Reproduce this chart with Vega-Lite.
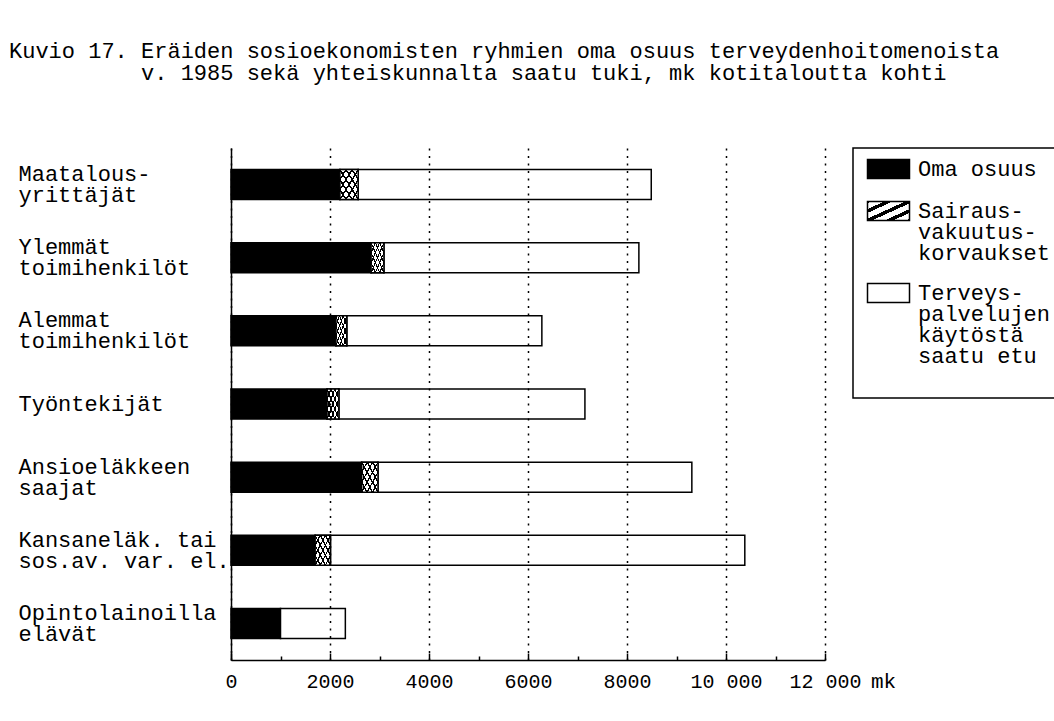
{
  "$schema": "https://vega.github.io/schema/vega-lite/v6.json",
  "width": 594,
  "height": 512,
  "autosize": {"type": "none"},
  "padding": {"left": 231, "top": 148, "right": 229, "bottom": 61},
  "background": "white",
  "config": {"view": {"stroke": null}, "font": "Liberation Mono"},
  "title": {
    "text": ["Kuvio 17. Eräiden sosioekonomisten ryhmien oma osuus terveydenhoitomenoista", "\u200b\u00a0\u00a0\u00a0\u00a0\u00a0\u00a0\u00a0\u00a0\u00a0\u00a0v. 1985 sekä yhteiskunnalta saatu tuki, mk kotitaloutta kohti"],
    "anchor": "start",
    "dx": -9,
    "offset": 62,
    "font": "Liberation Mono",
    "fontSize": 22,
    "fontWeight": "normal",
    "lineHeight": 22,
    "color": "black"
  },
  "data": {
    "values": [
      {"group": "Maatalous-\nyrittäjät", "part": "Oma osuus", "value": 2200},
      {"group": "Maatalous-\nyrittäjät", "part": "Sairaus-\nvakuutus-\nkorvaukset", "value": 370},
      {"group": "Maatalous-\nyrittäjät", "part": "Terveys-\npalvelujen\nkäytöstä\nsaatu etu", "value": 5920},
      {"group": "Ylemmät\ntoimihenkilöt", "part": "Oma osuus", "value": 2830},
      {"group": "Ylemmät\ntoimihenkilöt", "part": "Sairaus-\nvakuutus-\nkorvaukset", "value": 260},
      {"group": "Ylemmät\ntoimihenkilöt", "part": "Terveys-\npalvelujen\nkäytöstä\nsaatu etu", "value": 5150},
      {"group": "Alemmat\ntoimihenkilöt", "part": "Oma osuus", "value": 2120},
      {"group": "Alemmat\ntoimihenkilöt", "part": "Sairaus-\nvakuutus-\nkorvaukset", "value": 220},
      {"group": "Alemmat\ntoimihenkilöt", "part": "Terveys-\npalvelujen\nkäytöstä\nsaatu etu", "value": 3940},
      {"group": "Työntekijät", "part": "Oma osuus", "value": 1940},
      {"group": "Työntekijät", "part": "Sairaus-\nvakuutus-\nkorvaukset", "value": 240},
      {"group": "Työntekijät", "part": "Terveys-\npalvelujen\nkäytöstä\nsaatu etu", "value": 4970},
      {"group": "Ansioeläkkeen\nsaajat", "part": "Oma osuus", "value": 2640},
      {"group": "Ansioeläkkeen\nsaajat", "part": "Sairaus-\nvakuutus-\nkorvaukset", "value": 330},
      {"group": "Ansioeläkkeen\nsaajat", "part": "Terveys-\npalvelujen\nkäytöstä\nsaatu etu", "value": 6340},
      {"group": "Kansaneläk. tai\nsos.av. var. el.", "part": "Oma osuus", "value": 1700},
      {"group": "Kansaneläk. tai\nsos.av. var. el.", "part": "Sairaus-\nvakuutus-\nkorvaukset", "value": 310},
      {"group": "Kansaneläk. tai\nsos.av. var. el.", "part": "Terveys-\npalvelujen\nkäytöstä\nsaatu etu", "value": 8370},
      {"group": "Opintolainoilla\nelävät", "part": "Oma osuus", "value": 1000},
      {"group": "Opintolainoilla\nelävät", "part": "Terveys-\npalvelujen\nkäytöstä\nsaatu etu", "value": 1310}
    ]
  },
  "transform": [
    {"stack": "value", "groupby": ["group"], "sort": [{"field": "part", "order": "ascending"}], "as": ["x0", "x1"]}
  ],
  "layer": [
    {
      "mark": {"type": "bar", "stroke": "black", "strokeWidth": 1.5},
      "encoding": {
        "y": {
          "field": "group", "type": "nominal", "sort": null,
          "scale": {"paddingInner": 0.59, "paddingOuter": 0.295},
          "axis": {
            "title": null, "domainColor": "black", "domainWidth": 1.5, "ticks": false,
            "labelAlign": "left", "labelPadding": 213, "labelFont": "Liberation Mono",
            "labelFontSize": 22, "labelColor": "black", "labelLimit": 0,
            "labelExpr": "split(datum.label, '\\n')", "labelLineHeight": 21, "labelBaseline": "middle",
            "labelOffset": {"condition": {"test": "indexof(datum.value, '\\n') >= 0", "value": -10.5}, "value": 0}
          }
        },
        "x": {
          "field": "x0", "type": "quantitative",
          "scale": {"domain": [0, 12000], "nice": false, "zero": true},
          "axis": {
            "orient": "bottom",
            "values": [0, 2000, 4000, 6000, 8000, 10000, 12000],
            "title": "mk", "titleX": 652, "titleY": 10, "titleAlign": "center", "titleBaseline": "top",
            "titleFont": "Liberation Mono", "titleFontSize": 21, "titleFontWeight": "normal", "titleColor": "black",
            "domainColor": "black", "domainWidth": 1.5,
            "tickColor": "black", "tickSize": -7, "tickWidth": 1.5,
            "grid": true, "gridColor": "black", "gridDash": [2, 5.5], "gridWidth": 1.5,
            "labelExpr": "datum.value >= 10000 ? format(datum.value / 1000, 'd') + ' 000' : format(datum.value, 'd')",
            "labelFont": "Liberation Mono", "labelFontSize": 20, "labelColor": "black",
            "labelPadding": 18, "labelFlush": false, "labelOverlap": false, "zindex": 1
          }
        },
        "x2": {"field": "x1"},
        "fill": {
          "field": "part", "type": "nominal",
          "scale": {
            "domain": ["Oma osuus", "Sairaus-\nvakuutus-\nkorvaukset", "Terveys-\npalvelujen\nkäytöstä\nsaatu etu"],
            "range": [
              "black",
              {"expr": "{gradient: 'linear', x1: 0, y1: 0, x2: 1, y2: 1, stops: [{offset: 0, color: 'black'}, {offset: 0.05, color: 'black'}, {offset: 0.05, color: 'white'}, {offset: 0.2, color: 'white'}, {offset: 0.2, color: 'black'}, {offset: 0.3, color: 'black'}, {offset: 0.3, color: 'white'}, {offset: 0.45, color: 'white'}, {offset: 0.45, color: 'black'}, {offset: 0.55, color: 'black'}, {offset: 0.55, color: 'white'}, {offset: 0.7, color: 'white'}, {offset: 0.7, color: 'black'}, {offset: 0.8, color: 'black'}, {offset: 0.8, color: 'white'}, {offset: 0.95, color: 'white'}, {offset: 0.95, color: 'black'}, {offset: 1, color: 'black'}]}"},
              "white"
            ]
          },
          "legend": {
            "orient": "right", "offset": 28, "title": null,
            "strokeColor": "black", "padding": 10,
            "symbolType": "M-0.684,-1H3.737V1H-0.684Z", "symbolSize": 361,
            "symbolStrokeColor": "black", "symbolStrokeWidth": 1.5, "symbolOpacity": 1,
            "labelFont": "Liberation Mono", "labelFontSize": 22, "labelColor": "black",
            "labelLimit": 0, "labelOffset": 33, "labelBaseline": "middle",
            "labelExpr": "split(datum.label + (indexof(datum.label, 'Terveys') === 0 ? '\\n ' : ''), '\\n')",
            "rowPadding": 16,
            "encode": {
              "labels": {"update": {"lineHeight": {"value": 21}}},
              "symbols": {"update": {
                "stroke": {"value": "black"},
                "strokeWidth": {"value": 1.5}
              }},
              "legend": {"update": {"strokeWidth": {"value": 1.5}}}
            }
          }
        }
      }
    },
    {
      "transform": [{"filter": "datum.part === 'Sairaus-\\nvakuutus-\\nkorvaukset'"}],
      "mark": {
        "type": "bar", "strokeWidth": 0,
        "fill": {"gradient": "linear", "x1": 0, "y1": 0, "x2": 1, "y2": 1, "stops": [
          {"offset": 0, "color": "black"}, {"offset": 0.0225, "color": "black"},
          {"offset": 0.0225, "color": "white"}, {"offset": 0.1442, "color": "white"},
          {"offset": 0.1442, "color": "black"}, {"offset": 0.1892, "color": "black"},
          {"offset": 0.1892, "color": "white"}, {"offset": 0.3108, "color": "white"},
          {"offset": 0.3108, "color": "black"}, {"offset": 0.3558, "color": "black"},
          {"offset": 0.3558, "color": "white"}, {"offset": 0.4775, "color": "white"},
          {"offset": 0.4775, "color": "black"}, {"offset": 0.5225, "color": "black"},
          {"offset": 0.5225, "color": "white"}, {"offset": 0.6442, "color": "white"},
          {"offset": 0.6442, "color": "black"}, {"offset": 0.6892, "color": "black"},
          {"offset": 0.6892, "color": "white"}, {"offset": 0.8108, "color": "white"},
          {"offset": 0.8108, "color": "black"}, {"offset": 0.8558, "color": "black"},
          {"offset": 0.8558, "color": "white"}, {"offset": 0.9775, "color": "white"},
          {"offset": 0.9775, "color": "black"}, {"offset": 1, "color": "black"}
        ]}
      },
      "encoding": {
        "y": {"field": "group", "type": "nominal", "sort": null},
        "x": {
          "field": "x0", "type": "quantitative",
          "axis": {
            "orient": "bottom", "values": [1000, 3000, 5000, 7000, 9000, 11000],
            "domain": false, "labels": false, "grid": false, "title": null,
            "tickSize": -4, "tickColor": "black", "tickWidth": 1.5
          }
        },
        "x2": {"field": "x1"}
      }
    },
    {
      "transform": [{"filter": "datum.part === 'Sairaus-\\nvakuutus-\\nkorvaukset'"}],
      "mark": {
        "type": "bar", "stroke": "black", "strokeWidth": 1.5,
        "fill": {"gradient": "linear", "x1": 1, "y1": 0, "x2": 0, "y2": 1, "stops": [
          {"offset": 0, "color": "black"}, {"offset": 0.0225, "color": "black"},
          {"offset": 0.0225, "color": "rgba(0,0,0,0)"}, {"offset": 0.1442, "color": "rgba(0,0,0,0)"},
          {"offset": 0.1442, "color": "black"}, {"offset": 0.1892, "color": "black"},
          {"offset": 0.1892, "color": "rgba(0,0,0,0)"}, {"offset": 0.3108, "color": "rgba(0,0,0,0)"},
          {"offset": 0.3108, "color": "black"}, {"offset": 0.3558, "color": "black"},
          {"offset": 0.3558, "color": "rgba(0,0,0,0)"}, {"offset": 0.4775, "color": "rgba(0,0,0,0)"},
          {"offset": 0.4775, "color": "black"}, {"offset": 0.5225, "color": "black"},
          {"offset": 0.5225, "color": "rgba(0,0,0,0)"}, {"offset": 0.6442, "color": "rgba(0,0,0,0)"},
          {"offset": 0.6442, "color": "black"}, {"offset": 0.6892, "color": "black"},
          {"offset": 0.6892, "color": "rgba(0,0,0,0)"}, {"offset": 0.8108, "color": "rgba(0,0,0,0)"},
          {"offset": 0.8108, "color": "black"}, {"offset": 0.8558, "color": "black"},
          {"offset": 0.8558, "color": "rgba(0,0,0,0)"}, {"offset": 0.9775, "color": "rgba(0,0,0,0)"},
          {"offset": 0.9775, "color": "black"}, {"offset": 1, "color": "black"}
        ]}
      },
      "encoding": {
        "y": {"field": "group", "type": "nominal", "sort": null},
        "x": {"field": "x0", "type": "quantitative", "axis": null},
        "x2": {"field": "x1"}
      }
    }
  ],
  "resolve": {"axis": {"x": "independent"}}
}
